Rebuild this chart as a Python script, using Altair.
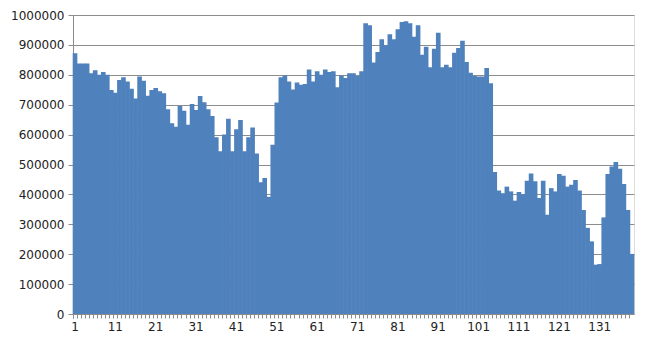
import altair as alt
import pandas as pd

values = [
    872000, 838000, 838000, 838000, 805000, 815000, 800000, 809000, 800000, 749000,
    740000, 783000, 792000, 778000, 753000, 721000, 794000, 780000, 730000, 749000,
    756000, 745000, 738000, 685000, 638000, 626000, 696000, 680000, 633000, 702000,
    682000, 729000, 708000, 685000, 662000, 591000, 544000, 600000, 653000, 544000,
    618000, 649000, 544000, 591000, 624000, 537000, 441000, 455000, 392000, 566000,
    707000, 792000, 798000, 778000, 751000, 774000, 767000, 769000, 818000, 778000,
    812000, 800000, 818000, 809000, 812000, 758000, 798000, 789000, 805000, 805000,
    796000, 812000, 972000, 966000, 841000, 876000, 919000, 899000, 936000, 919000,
    952000, 977000, 979000, 972000, 927000, 966000, 867000, 894000, 825000, 887000,
    941000, 825000, 834000, 825000, 874000, 890000, 914000, 843000, 807000, 796000,
    794000, 794000, 823000, 772000, 475000, 413000, 404000, 426000, 410000, 379000,
    408000, 401000, 446000, 470000, 444000, 388000, 446000, 332000, 421000, 410000,
    468000, 462000, 426000, 432000, 448000, 413000, 348000, 288000, 243000, 165000,
    167000, 323000, 468000, 493000, 508000, 486000, 435000, 348000, 201000,
]
categories = list(range(1, len(values) + 1))
y_ticks = list(range(0, 1000001, 100000))

df = pd.DataFrame({"cat": categories, "value": values})

FONT = "DejaVu Sans"
GRID = "#8c8c8c"

chart = alt.Chart(df).mark_bar(
    color="#4F81BD", strokeWidth=0, width=alt.RelativeBandSize(1.15)
).encode(
    x=alt.X(
        "cat:O",
        sort=categories,
        scale=alt.Scale(paddingInner=0, paddingOuter=0),
        axis=alt.Axis(
            title=None,
            labelAngle=0,
            labelExpr="(datum.value - 1) % 10 == 0 ? datum.label : ''",
            labelOverlap=False,
            bandPosition=0,
            tickExtra=True,
            tickSize=4,
            tickColor=GRID,
            domainColor=GRID,
            labelFont=FONT,
            labelFontSize=12,
            labelColor="#222222",
            labelPadding=3,
            grid=False,
        ),
    ),
    y=alt.Y(
        "value:Q",
        scale=alt.Scale(domain=[0, 1000000], nice=False),
        axis=alt.Axis(
            title=None,
            values=y_ticks,
            format="d",
            grid=True,
            gridColor=GRID,
            gridWidth=1,
            tickSize=5,
            tickColor=GRID,
            domainColor=GRID,
            labelFont=FONT,
            labelFontSize=12,
            labelColor="#222222",
            labelPadding=4,
        ),
    ),
).properties(
    width=561,
    height=299,
    autosize=alt.AutoSizeParams(type="none"),
    padding={"left": 73, "top": 15, "right": 24, "bottom": 37},
).configure_view(
    stroke=None
).configure(
    background="white"
)

chart.save("out.html", embed_options={"renderer": "svg", "actions": False})
